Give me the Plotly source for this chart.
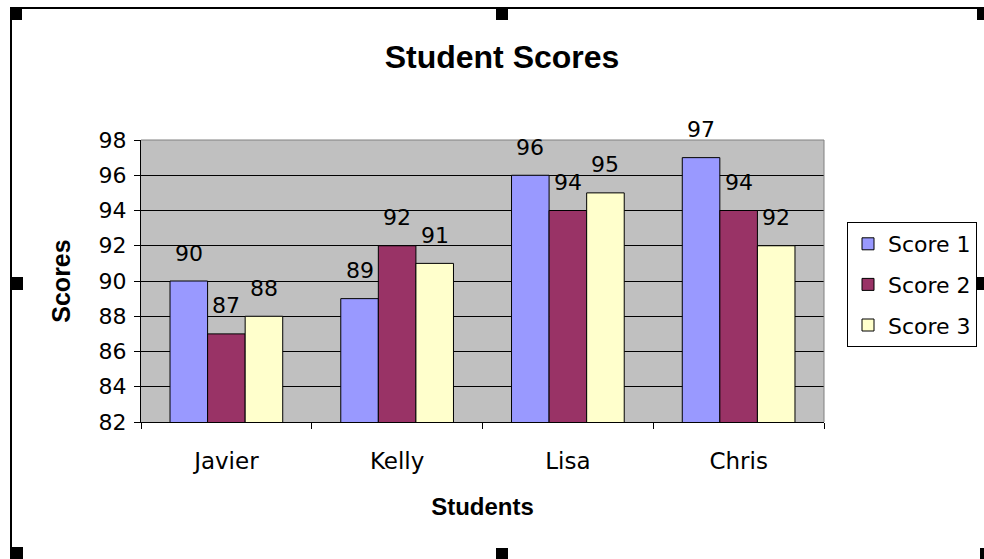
import plotly.graph_objects as go

students = ["Javier", "Kelly", "Lisa", "Chris"]
series_names = ["Score 1", "Score 2", "Score 3"]
score1 = [90, 89, 96, 97]
score2 = [87, 92, 94, 94]
score3 = [88, 91, 95, 92]
y_ticks = [82, 84, 86, 88, 90, 92, 94, 96, 98]

series_values = [score1, score2, score3]
colors = ["#9999FF", "#993366", "#FFFFCC"]

W, H = 984, 559
L, R, T, B = 141, 824, 140, 422
FONT = "DejaVu Sans, Liberation Sans, Arial, sans-serif"
BFONT = "Liberation Sans, Arial, sans-serif"
bargap = 0.34

fig = go.Figure()
for k, (name, vals) in enumerate(zip(series_names, series_values)):
    fig.add_trace(go.Bar(
        x=students, y=vals, name=name, legendgroup=name,
        marker=dict(color=colors[k], line=dict(color="black", width=1)),
    ))

# data labels
bw = (1 - bargap) / len(series_names)
annotations = []
for k, vals in enumerate(series_values):
    for i, v in enumerate(vals):
        annotations.append(dict(
            x=i + (k - 1) * bw, y=v, xref="x", yref="y", text=str(v),
            showarrow=False, yanchor="middle", yshift=28,
            font=dict(family=FONT, size=22, color="black"),
        ))

def px(x):
    return (x - L) / (R - L)

def py(y):
    return (B - y) / (B - T)

shapes = []
# plot area top/right gray border
shapes.append(dict(type="line", xref="paper", yref="paper", x0=0, x1=1, y0=1, y1=1,
                   line=dict(color="#808080", width=1), layer="above"))
shapes.append(dict(type="line", xref="paper", yref="paper", x0=1, x1=1, y0=0, y1=1,
                   line=dict(color="#808080", width=1), layer="above"))
# chart frame
shapes.append(dict(type="line", xref="paper", yref="paper", x0=px(11), x1=px(11), y0=py(8), y1=py(565),
                   line=dict(color="black", width=2)))
shapes.append(dict(type="line", xref="paper", yref="paper", x0=px(11), x1=px(990), y0=py(8), y1=py(8),
                   line=dict(color="black", width=2)))
# selection handles
handles = [(10, 7, 22, 20), (496, 7, 508, 20), (977, 7, 990, 20),
           (10, 277, 23, 290), (977, 277, 990, 290),
           (10, 547, 23, 565), (496, 548, 508, 565), (980, 548, 990, 565)]
for x0, y0, x1, y1 in handles:
    shapes.append(dict(type="rect", xref="paper", yref="paper",
                       x0=px(x0), x1=px(x1), y0=py(y0), y1=py(y1),
                       fillcolor="black", line=dict(width=0)))

fig.update_layout(
    width=W, height=H,
    margin=dict(l=L, r=W - R, t=T, b=H - B, autoexpand=False),
    paper_bgcolor="white", plot_bgcolor="#C0C0C0",
    barmode="group", bargap=bargap, bargroupgap=0,
    title=dict(text="<b>Student Scores</b>", x=502 / W, xanchor="center",
               y=1 - 57 / H, yanchor="middle",
               font=dict(family=BFONT, size=32, color="black")),
    font=dict(family=FONT, size=22, color="black"),
    showlegend=True,
    legend=dict(x=px(847), y=py(222), xanchor="left", yanchor="top",
                bgcolor="white", bordercolor="black", borderwidth=1,
                font=dict(family=FONT, size=22, color="black"),
                traceorder="grouped", tracegroupgap=9, itemwidth=30,
                itemclick=False),
    annotations=annotations,
    shapes=shapes,
)
fig.update_xaxes(
    showline=True, linecolor="black", linewidth=1,
    ticks="outside", ticklen=6, tickcolor="black", tickson="boundaries",
    showgrid=False, ticklabelstandoff=18,
    tickfont=dict(family=FONT, size=23, color="black"),
    title=dict(text="<b>Students</b>", standoff=25,
               font=dict(family=BFONT, size=24, color="black")),
)
fig.update_yaxes(
    range=[82, 98], tickvals=y_ticks, ticktext=[str(t) for t in y_ticks],
    showline=True, linecolor="black", linewidth=1,
    ticks="outside", ticklen=6, tickcolor="black",
    showgrid=True, gridcolor="black", gridwidth=1, zeroline=False,
    ticklabelstandoff=3,
    tickfont=dict(family=FONT, size=22, color="black"),
    title=dict(text="<b>Scores</b>", standoff=20,
               font=dict(family=BFONT, size=25, color="black")),
)

fig.write_html("out.html")
